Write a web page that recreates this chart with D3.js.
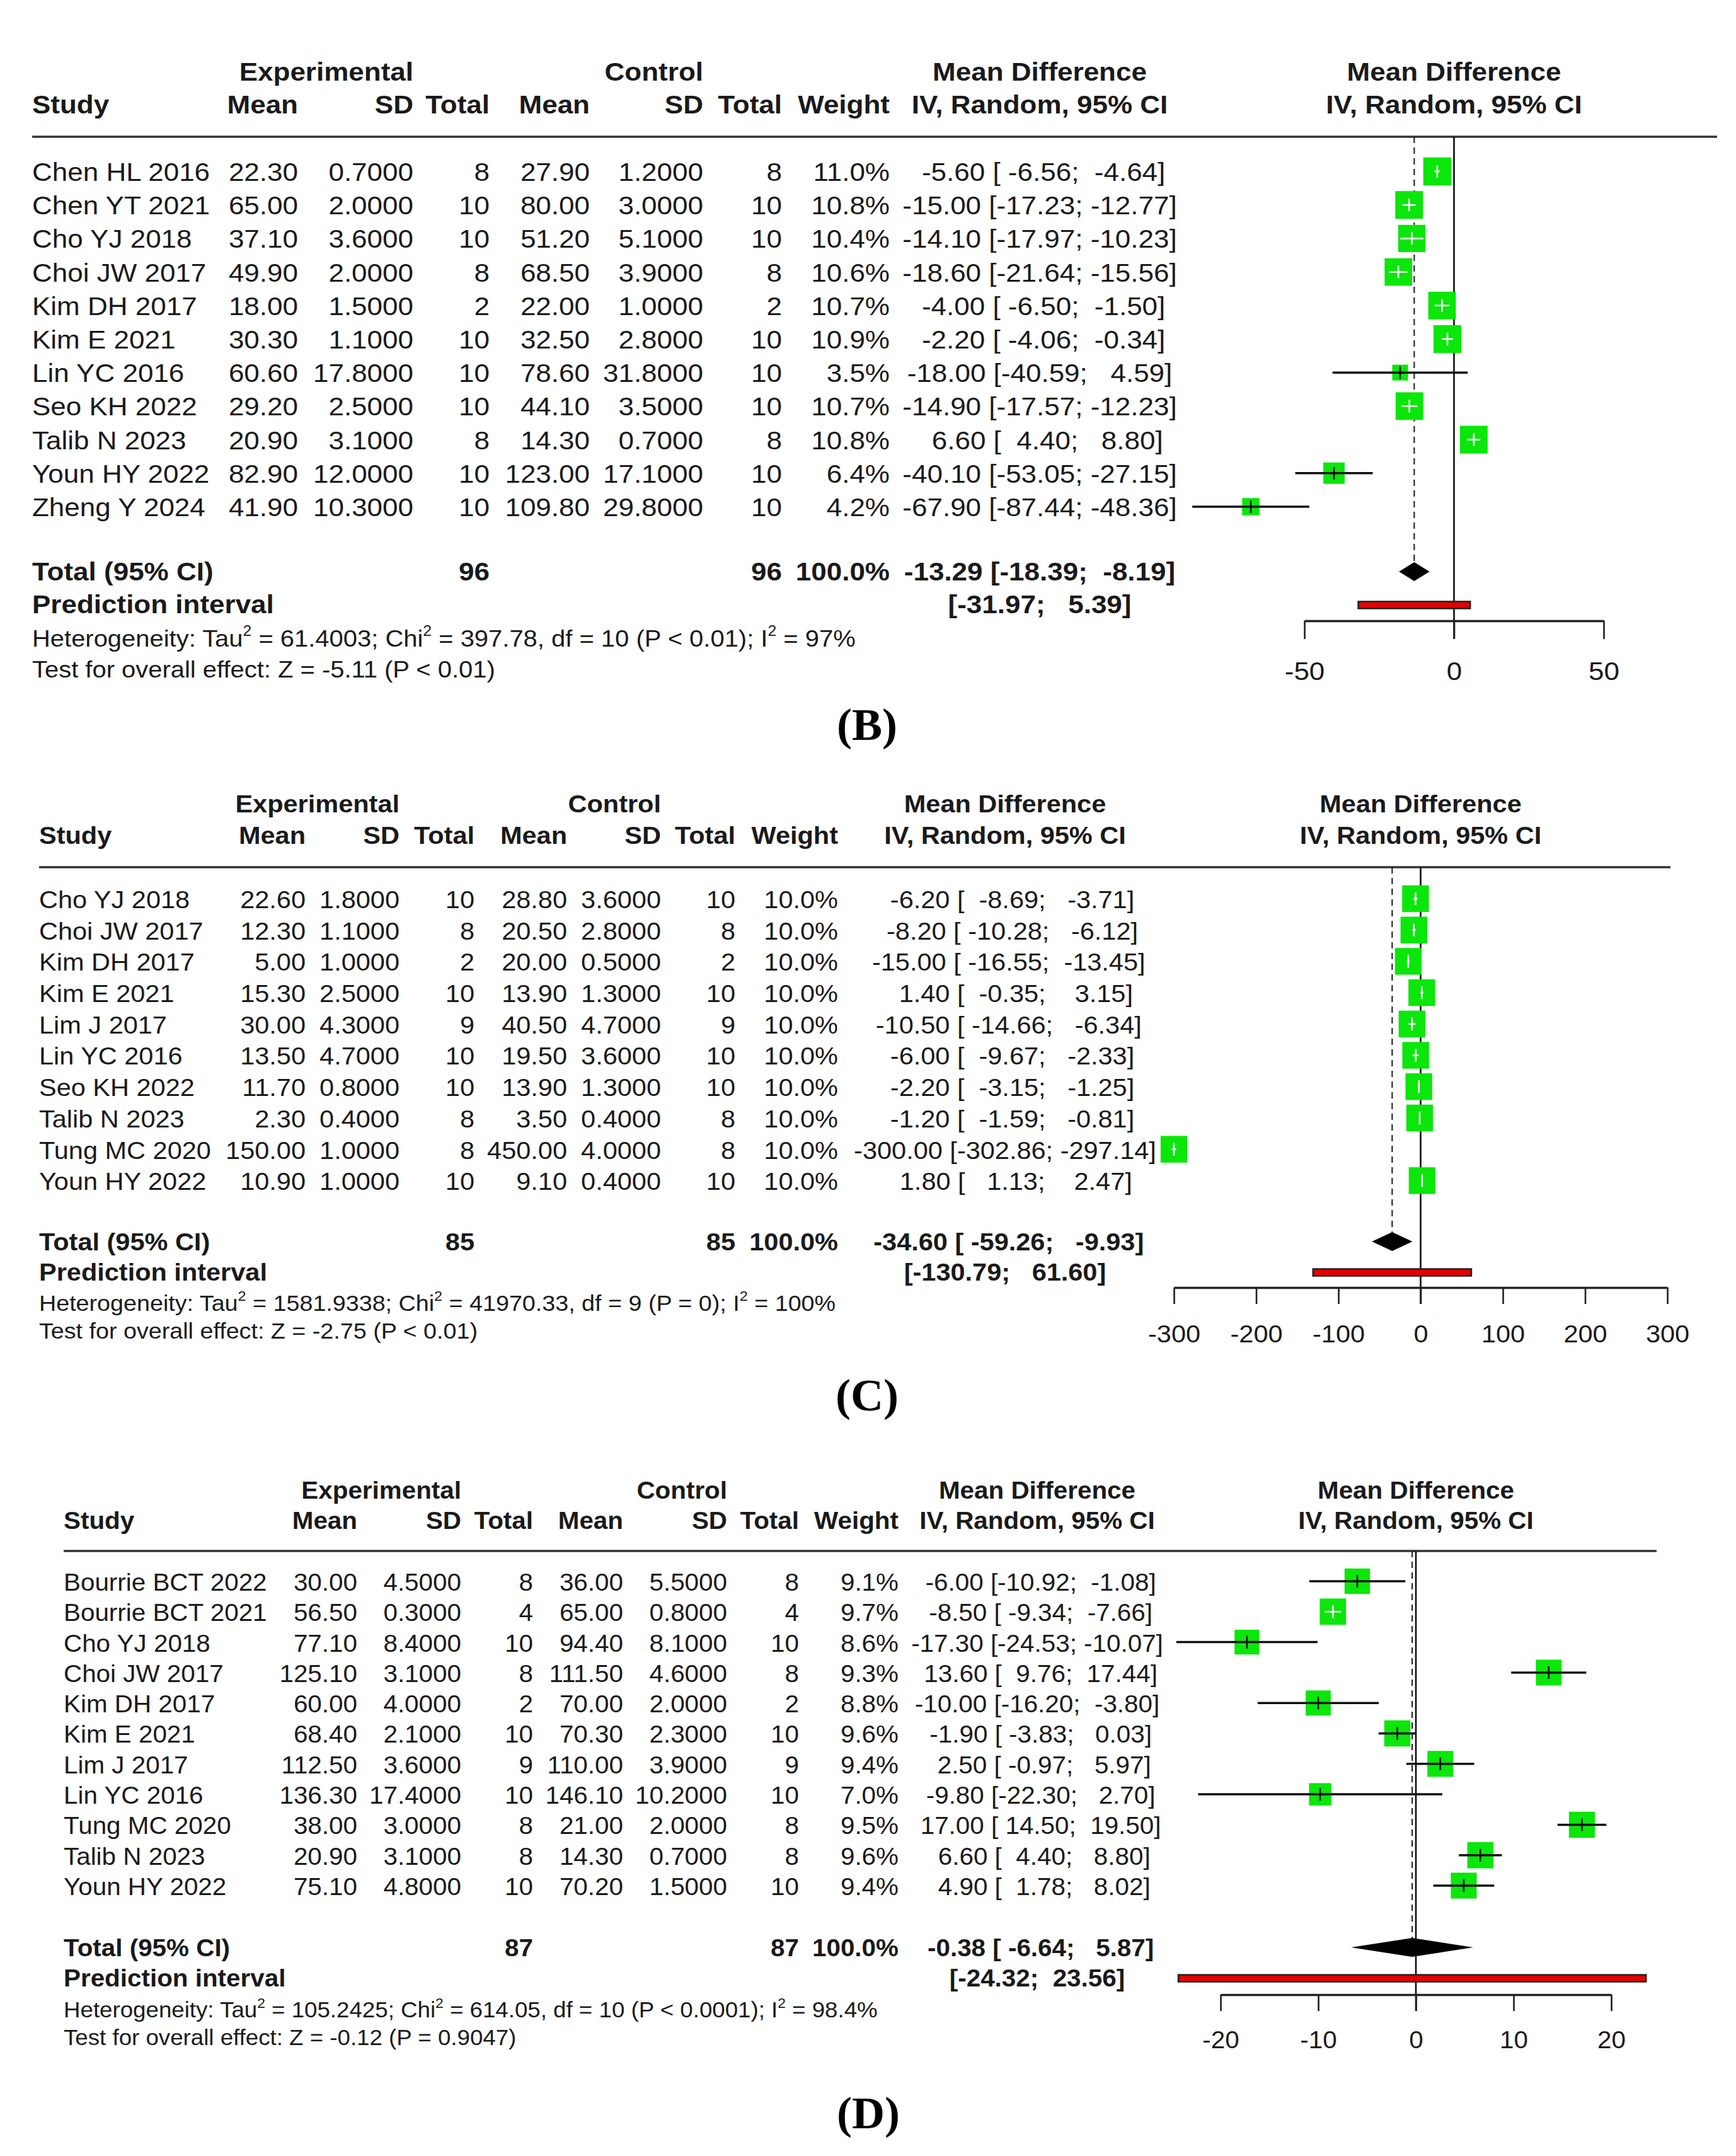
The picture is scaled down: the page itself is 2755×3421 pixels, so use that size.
<!DOCTYPE html>
<html>
<head>
<meta charset="utf-8">
<script src="https://cdn.jsdelivr.net/npm/d3@7"></script>
<style>
body { margin: 0; background: #fff; }
text { font-family: "Liberation Sans", Arial, Helvetica, sans-serif; fill: #1a1a1a; white-space: pre; }
</style>
</head>
<body>
<svg id="chart"></svg>
<script>
// ---------- panel B data ----------
var studiesB = ["Chen HL 2016","Chen YT 2021","Cho YJ 2018","Choi JW 2017","Kim DH 2017","Kim E 2021","Lin YC 2016","Seo KH 2022","Talib N 2023","Youn HY 2022","Zheng Y 2024"];
var expMeanB = [22.30, 65.00, 37.10, 49.90, 18.00, 30.30, 60.60, 29.20, 20.90, 82.90, 41.90];
var expSdB   = [0.7, 2.0, 3.6, 2.0, 1.5, 1.1, 17.8, 2.5, 3.1, 12.0, 10.3];
var expNB    = [8, 10, 10, 8, 2, 10, 10, 10, 8, 10, 10];
var ctlMeanB = [27.90, 80.00, 51.20, 68.50, 22.00, 32.50, 78.60, 44.10, 14.30, 123.00, 109.80];
var ctlSdB   = [1.2, 3.0, 5.1, 3.9, 1.0, 2.8, 31.8, 3.5, 0.7, 17.1, 29.8];
var ctlNB    = [8, 10, 10, 8, 2, 10, 10, 10, 8, 10, 10];
var weightB  = [11.0, 10.8, 10.4, 10.6, 10.7, 10.9, 3.5, 10.7, 10.8, 6.4, 4.2];
var mdB      = [-5.60, -15.00, -14.10, -18.60, -4.00, -2.20, -18.00, -14.90, 6.60, -40.10, -67.90];
var lowerB   = [-6.56, -17.23, -17.97, -21.64, -6.50, -4.06, -40.59, -17.57, 4.40, -53.05, -87.44];
var upperB   = [-4.64, -12.77, -10.23, -15.56, -1.50, -0.34, 4.59, -12.23, 8.80, -27.15, -48.36];
var pooledB  = [-13.29, -18.39, -8.19];
var predB    = [-31.97, 5.39];
var totalNB  = [96, 96];
var hetB     = ["Heterogeneity: Tau", "2", " = 61.4003; Chi", "2", " = 397.78, df = 10 (P < 0.01); I", "2", " = 97%"];
var testB    = "Test for overall effect: Z = -5.11 (P < 0.01)";
var ticksB   = [-50, 0, 50];

// ---------- panel C data ----------
var studiesC = ["Cho YJ 2018","Choi JW 2017","Kim DH 2017","Kim E 2021","Lim J 2017","Lin YC 2016","Seo KH 2022","Talib N 2023","Tung MC 2020","Youn HY 2022"];
var expMeanC = [22.60, 12.30, 5.00, 15.30, 30.00, 13.50, 11.70, 2.30, 150.00, 10.90];
var expSdC   = [1.8, 1.1, 1.0, 2.5, 4.3, 4.7, 0.8, 0.4, 1.0, 1.0];
var expNC    = [10, 8, 2, 10, 9, 10, 10, 8, 8, 10];
var ctlMeanC = [28.80, 20.50, 20.00, 13.90, 40.50, 19.50, 13.90, 3.50, 450.00, 9.10];
var ctlSdC   = [3.6, 2.8, 0.5, 1.3, 4.7, 3.6, 1.3, 0.4, 4.0, 0.4];
var ctlNC    = [10, 8, 2, 10, 9, 10, 10, 8, 8, 10];
var weightC  = [10.0, 10.0, 10.0, 10.0, 10.0, 10.0, 10.0, 10.0, 10.0, 10.0];
var mdC      = [-6.20, -8.20, -15.00, 1.40, -10.50, -6.00, -2.20, -1.20, -300.00, 1.80];
var lowerC   = [-8.69, -10.28, -16.55, -0.35, -14.66, -9.67, -3.15, -1.59, -302.86, 1.13];
var upperC   = [-3.71, -6.12, -13.45, 3.15, -6.34, -2.33, -1.25, -0.81, -297.14, 2.47];
var pooledC  = [-34.60, -59.26, -9.93];
var predC    = [-130.79, 61.60];
var totalNC  = [85, 85];
var hetC     = ["Heterogeneity: Tau", "2", " = 1581.9338; Chi", "2", " = 41970.33, df = 9 (P = 0); I", "2", " = 100%"];
var testC    = "Test for overall effect: Z = -2.75 (P < 0.01)";
var ticksC   = [-300, -200, -100, 0, 100, 200, 300];

// ---------- panel D data ----------
var studiesD = ["Bourrie BCT 2022","Bourrie BCT 2021","Cho YJ 2018","Choi JW 2017","Kim DH 2017","Kim E 2021","Lim J 2017","Lin YC 2016","Tung MC 2020","Talib N 2023","Youn HY 2022"];
var expMeanD = [30.00, 56.50, 77.10, 125.10, 60.00, 68.40, 112.50, 136.30, 38.00, 20.90, 75.10];
var expSdD   = [4.5, 0.3, 8.4, 3.1, 4.0, 2.1, 3.6, 17.4, 3.0, 3.1, 4.8];
var expND    = [8, 4, 10, 8, 2, 10, 9, 10, 8, 8, 10];
var ctlMeanD = [36.00, 65.00, 94.40, 111.50, 70.00, 70.30, 110.00, 146.10, 21.00, 14.30, 70.20];
var ctlSdD   = [5.5, 0.8, 8.1, 4.6, 2.0, 2.3, 3.9, 10.2, 2.0, 0.7, 1.5];
var ctlND    = [8, 4, 10, 8, 2, 10, 9, 10, 8, 8, 10];
var weightD  = [9.1, 9.7, 8.6, 9.3, 8.8, 9.6, 9.4, 7.0, 9.5, 9.6, 9.4];
var mdD      = [-6.00, -8.50, -17.30, 13.60, -10.00, -1.90, 2.50, -9.80, 17.00, 6.60, 4.90];
var lowerD   = [-10.92, -9.34, -24.53, 9.76, -16.20, -3.83, -0.97, -22.30, 14.50, 4.40, 1.78];
var upperD   = [-1.08, -7.66, -10.07, 17.44, -3.80, 0.03, 5.97, 2.70, 19.50, 8.80, 8.02];
var pooledD  = [-0.38, -6.64, 5.87];
var predD    = [-24.32, 23.56];
var totalND  = [87, 87];
var hetD     = ["Heterogeneity: Tau", "2", " = 105.2425; Chi", "2", " = 614.05, df = 10 (P < 0.0001); I", "2", " = 98.4%"];
var testD    = "Test for overall effect: Z = -0.12 (P = 0.9047)";
var ticksD   = [-20, -10, 0, 10, 20];

// text in the picture is a bit wider than tall, so each panel is stretched a little
var SX = 1.06;
var BOX_K = 13.4;   // square side = BOX_K * sqrt(weight)
var GREEN = "#0be60b";

var svg = d3.select("#chart").attr("width", 2755).attr("height", 3421);
svg.append("rect").attr("width", 2755).attr("height", 3421).attr("fill", "#fff");

function X(v) { return v / SX; }
function pad(s, w) { return " ".repeat(Math.max(0, w - s.length)) + s; }

function drawPanel(d, L) {
	var FS = L.fs / SX, FS_SMALL = FS * 0.908;
	var g = svg.append("g").attr("transform", "scale(" + SX + ",1)");
	var x = d3.scaleLinear().domain(d3.extent(d.ticks)).range([X(L.axis[0]), X(L.axis[1])]);

	function txt(px, y, s, anchor, bold, size) {
		return g.append("text").attr("x", X(px)).attr("y", y)
			.attr("text-anchor", anchor || "start")
			.attr("font-weight", bold ? "bold" : "normal")
			.attr("font-size", size || FS).text(s);
	}

	// headers
	txt(L.expSD, L.head1, "Experimental", "end", true);
	txt(L.ctlSD, L.head1, "Control", "end", true);
	txt(L.ci, L.head1, "Mean Difference", "middle", true);
	g.append("text").attr("x", x(0)).attr("y", L.head1).attr("text-anchor", "middle")
		.attr("font-weight", "bold").attr("font-size", FS).text("Mean Difference");
	txt(L.study, L.head2, "Study", "start", true);
	txt(L.expMean, L.head2, "Mean", "end", true);
	txt(L.expSD, L.head2, "SD", "end", true);
	txt(L.expN, L.head2, "Total", "end", true);
	txt(L.ctlMean, L.head2, "Mean", "end", true);
	txt(L.ctlSD, L.head2, "SD", "end", true);
	txt(L.ctlN, L.head2, "Total", "end", true);
	txt(L.weight, L.head2, "Weight", "end", true);
	txt(L.ci, L.head2, "IV, Random, 95% CI", "middle", true);
	g.append("text").attr("x", x(0)).attr("y", L.head2).attr("text-anchor", "middle")
		.attr("font-weight", "bold").attr("font-size", FS).text("IV, Random, 95% CI");

	g.append("line").attr("x1", X(L.study)).attr("x2", X(L.ruleEnd))
		.attr("y1", L.rule).attr("y2", L.rule)
		.attr("stroke", "#333").attr("stroke-width", 3.5);

	// widths for the padded CI strings
	var f2 = function(v) { return v.toFixed(2); };
	var wE = d3.max(d.md.concat([d.pooled[0]]), function(v) { return f2(v).length; });
	var wL = d3.max(d.lower.concat([d.pooled[1], d.pred[0]]), function(v) { return f2(v).length; });
	var wU = d3.max(d.upper.concat([d.pooled[2], d.pred[1]]), function(v) { return f2(v).length; });

	// zero line and pooled dashed line
	g.append("line").attr("x1", x(0)).attr("x2", x(0))
		.attr("y1", L.rule).attr("y2", L.axisY + L.tickLen)
		.attr("stroke", "#111").attr("stroke-width", 2.5);
	g.append("line").attr("x1", x(d.pooled[0])).attr("x2", x(d.pooled[0]))
		.attr("y1", L.rule).attr("y2", L.total - 14 - 15)
		.attr("stroke", "#222").attr("stroke-width", 2).attr("stroke-dasharray", "10,7");

	d.studies.forEach(function(s, i) {
		var y = L.row0 + i * L.step;
		txt(L.study, y, s);
		txt(L.expMean, y, d.expMean[i].toFixed(2), "end");
		txt(L.expSD, y, d.expSd[i].toFixed(4), "end");
		txt(L.expN, y, String(d.expN[i]), "end");
		txt(L.ctlMean, y, d.ctlMean[i].toFixed(2), "end");
		txt(L.ctlSD, y, d.ctlSd[i].toFixed(4), "end");
		txt(L.ctlN, y, String(d.ctlN[i]), "end");
		txt(L.weight, y, d.weight[i].toFixed(1) + "%", "end");
		txt(L.ci, y, pad(f2(d.md[i]), wE) + " [" + pad(f2(d.lower[i]), wL) + "; " + pad(f2(d.upper[i]), wU) + "]", "middle");

		// square + CI
		var cy = y - 15;
		var side = BOX_K * Math.sqrt(d.weight[i]);
		var cx = x(d.md[i]);
		g.append("rect").attr("x", cx - X(side / 2)).attr("y", cy - side / 2)
			.attr("width", X(side)).attr("height", side).attr("fill", GREEN);
		var inside = (x(d.upper[i]) - x(d.lower[i])) * SX < side;
		var col = inside ? "#fff" : "#111";
		g.append("line").attr("x1", x(d.lower[i])).attr("x2", x(d.upper[i]))
			.attr("y1", cy).attr("y2", cy)
			.attr("stroke", col).attr("stroke-width", inside ? 2.5 : 3.5);
		g.append("line").attr("x1", cx).attr("x2", cx)
			.attr("y1", cy - 10).attr("y2", cy + 10)
			.attr("stroke", col).attr("stroke-width", 2.5);
	});

	// total + prediction rows
	txt(L.study, L.total, "Total (95% CI)", "start", true);
	txt(L.expN, L.total, String(d.totalN[0]), "end", true);
	txt(L.ctlN, L.total, String(d.totalN[1]), "end", true);
	txt(L.weight, L.total, "100.0%", "end", true);
	txt(L.ci, L.total, pad(f2(d.pooled[0]), wE) + " [" + pad(f2(d.pooled[1]), wL) + "; " + pad(f2(d.pooled[2]), wU) + "]", "middle", true);
	txt(L.study, L.pi, "Prediction interval", "start", true);
	txt(L.ci, L.pi, "[" + pad(f2(d.pred[0]), wL) + "; " + pad(f2(d.pred[1]), wU) + "]", "middle", true);

	var dy = L.total - 14;
	g.append("path")
		.attr("d", "M" + x(d.pooled[1]) + "," + dy + "L" + x(d.pooled[0]) + "," + (dy - 15) +
			"L" + x(d.pooled[2]) + "," + dy + "L" + x(d.pooled[0]) + "," + (dy + 15) + "Z")
		.attr("fill", "#000");
	var py = L.pi - 13;
	g.append("rect").attr("x", x(d.pred[0])).attr("y", py - 5.5)
		.attr("width", x(d.pred[1]) - x(d.pred[0])).attr("height", 11)
		.attr("fill", "#e60000").attr("stroke", "#222").attr("stroke-width", 2.5);

	// axis
	var ax = g.append("g").attr("transform", "translate(0," + L.axisY + ")")
		.call(d3.axisBottom(x).tickValues(d.ticks).tickSize(L.tickLen).tickSizeOuter(0)
			.tickPadding(L.tickPad).tickFormat(function(v) { return String(v); }));
	ax.select(".domain").attr("stroke", "#222").attr("stroke-width", 3.5);
	ax.selectAll(".tick line").attr("stroke", "#222").attr("stroke-width", 2.5);
	ax.selectAll(".tick text").attr("font-size", FS).attr("fill", "#1a1a1a")
		.attr("font-family", "'Liberation Sans', Arial, sans-serif");

	// heterogeneity and overall effect
	var ht = g.append("text").attr("x", X(L.study)).attr("y", L.het).attr("font-size", FS_SMALL);
	d.het.forEach(function(part, k) {
		var t = ht.append("tspan").text(part);
		if (k % 2 == 1) t.attr("font-size", FS_SMALL * 0.62).attr("baseline-shift", "70%");
	});
	txt(L.study, L.test, d.test, "start", false, FS_SMALL);

	// panel letter
	svg.append("text").attr("x", L.label[0]).attr("y", L.label[1]).attr("text-anchor", "middle")
		.attr("font-size", 72).attr("font-weight", "bold")
		.style("font-family", "'Liberation Serif', 'Times New Roman', serif")
		.style("fill", "#000").text(L.label[2]);
}

drawPanel(
	{studies: studiesB, expMean: expMeanB, expSd: expSdB, expN: expNB, ctlMean: ctlMeanB, ctlSd: ctlSdB, ctlN: ctlNB,
	 weight: weightB, md: mdB, lower: lowerB, upper: upperB, pooled: pooledB, pred: predB, totalN: totalNB,
	 het: hetB, test: testB, ticks: ticksB},
	{fs: 44, head1: 128, head2: 180, rule: 217, row0: 287, step: 53.2, total: 921, pi: 973, het: 1026, test: 1075,
	 axisY: 985, tickLen: 29, tickPad: 36, label: [1376, 1174, "(B)"],
	 study: 51, expMean: 473, expSD: 656, expN: 777, ctlMean: 936, ctlSD: 1116, ctlN: 1241, weight: 1412,
	 ci: 1650, ruleEnd: 2725, axis: [2070, 2545]});

drawPanel(
	{studies: studiesC, expMean: expMeanC, expSd: expSdC, expN: expNC, ctlMean: ctlMeanC, ctlSd: ctlSdC, ctlN: ctlNC,
	 weight: weightC, md: mdC, lower: lowerC, upper: upperC, pooled: pooledC, pred: predC, totalN: totalNC,
	 het: hetC, test: testC, ticks: ticksC},
	{fs: 41.5, head1: 1289, head2: 1339, rule: 1376, row0: 1441, step: 49.7, total: 1984, pi: 2032, het: 2080, test: 2124,
	 axisY: 2043, tickLen: 26, tickPad: 33, label: [1376, 2238, "(C)"],
	 study: 62, expMean: 485, expSD: 634, expN: 753, ctlMean: 900, ctlSD: 1049, ctlN: 1167, weight: 1330,
	 ci: 1595, ruleEnd: 2651, axis: [1863, 2646]});

drawPanel(
	{studies: studiesD, expMean: expMeanD, expSd: expSdD, expN: expND, ctlMean: ctlMeanD, ctlSd: ctlSdD, ctlN: ctlND,
	 weight: weightD, md: mdD, lower: lowerD, upper: upperD, pooled: pooledD, pred: predD, totalN: totalND,
	 het: hetD, test: testD, ticks: ticksD},
	{fs: 40.4, head1: 2378, head2: 2426, rule: 2461, row0: 2524, step: 48.3, total: 3104, pi: 3152, het: 3201, test: 3245,
	 axisY: 3165, tickLen: 26, tickPad: 32, label: [1378, 3377, "(D)"],
	 study: 101, expMean: 567, expSD: 732, expN: 846, ctlMean: 989, ctlSD: 1154, ctlN: 1268, weight: 1426,
	 ci: 1646, ruleEnd: 2629, axis: [1937, 2557]});
</script>
</body>
</html>
